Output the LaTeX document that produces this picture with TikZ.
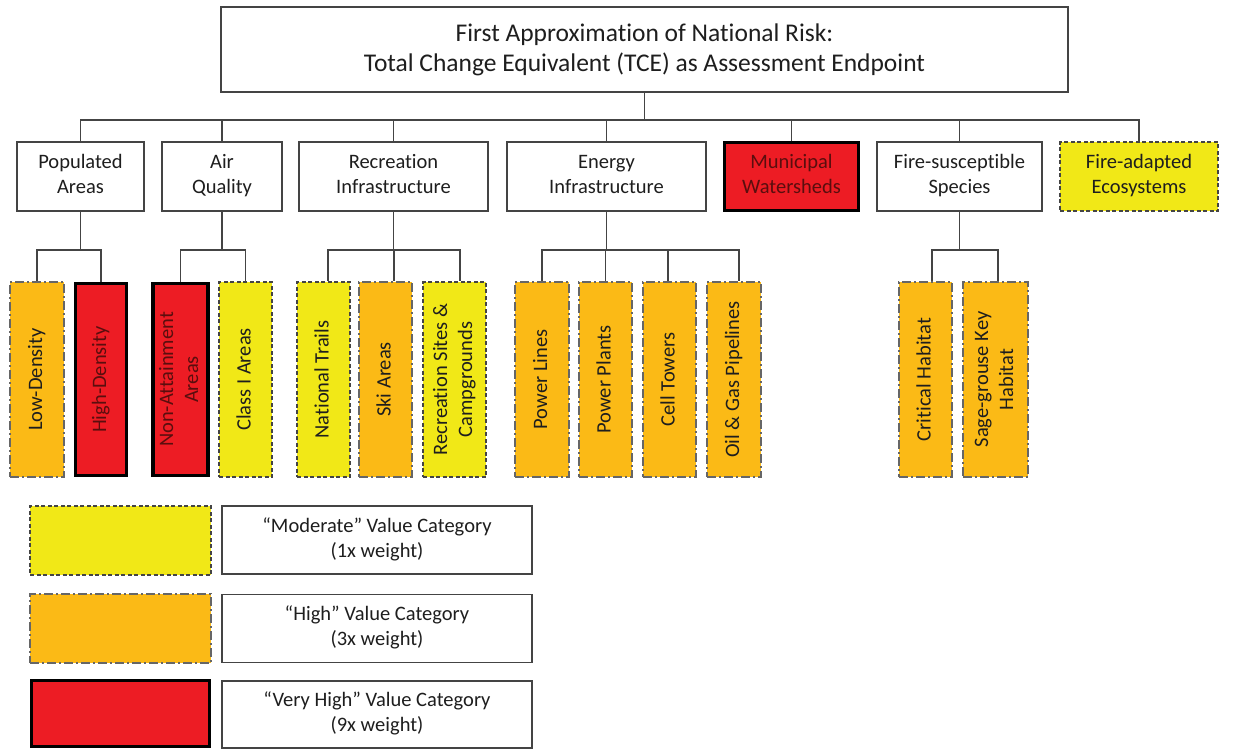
\documentclass[tikz,border=0pt]{standalone}
\usepackage{fontspec}
\usepackage{graphicx}
\setmainfont{Carlito}[Ligatures={NoCommon}]
\definecolor{modfill}{RGB}{241,232,23}
\definecolor{highfill}{RGB}{251,186,22}
\definecolor{vhighfill}{RGB}{237,28,36}
\definecolor{linegray}{RGB}{68,68,68}
\definecolor{txtgray}{RGB}{30,30,30}
\definecolor{txtred}{RGB}{90,14,14}
\newcommand{\vtext}[1]{\rotatebox{90}{\begin{tabular}{@{}c@{}}#1\end{tabular}}}
\tikzset{
  base/.style={inner sep=0pt, align=center, text=txtgray,
    font=\fontsize{20.5}{25}\selectfont},
  plainbox/.style={base, draw=linegray, line width=1.5pt, fill=white},
  moderate/.style={base, draw=linegray, line width=1.5pt, fill=modfill,
    dash pattern=on 4pt off 2.5pt},
  high/.style={base, draw=black!60, line width=2pt, fill=highfill,
    dash pattern=on 9pt off 3pt on 2pt off 3pt},
  veryhigh/.style={base, draw=black, line width=3.5pt, fill=vhighfill, text=txtred},
  toprow/.style={minimum height=69pt, text depth=5pt},
  vbar/.style={minimum height=195pt},
  link/.style={draw=linegray, line width=1.5pt, line join=miter},
}
\begin{document}
\begin{tikzpicture}[x=1pt, y=-1pt]
\useasboundingbox (0,0) rectangle (1235,750);

% root
\node[plainbox, minimum width=847pt, minimum height=85pt,
  font=\fontsize{25.5}{30}\selectfont] (root) at (644.5,49.5)
  {First Approximation of National Risk:\\Total Change Equivalent (TCE) as Assessment Endpoint};

% value groups
\node[plainbox, toprow, minimum width=127pt] (pop)  at (80.5,176.5) {Populated\\Areas};
\node[plainbox, toprow, minimum width=120pt] (air)  at (222,176.5) {Air\\Quality};
\node[plainbox, toprow, minimum width=189pt] (rec)  at (393.5,176.5) {Recreation\\Infrastructure};
\node[plainbox, toprow, minimum width=199pt] (ene)  at (606.5,176.5) {Energy\\Infrastructure};
\node[veryhigh, minimum width=134pt, minimum height=68pt, text depth=5pt] (mun) at (791.5,176.5) {Municipal\\Watersheds};
\node[plainbox, toprow, minimum width=165pt] (fsus) at (959.5,176.5) {Fire-susceptible\\Species};
\node[moderate, toprow, minimum width=158pt] (fad)  at (1139,176.5) {Fire-adapted\\Ecosystems};

% resources
\node[high, vbar, minimum width=54pt] (low)  at (37,379.5) {\vtext{Low-Density}};
\node[veryhigh, minimum width=51pt, minimum height=192pt] (hd) at (101,379.5) {\vtext{High-Density}};
\node[veryhigh, minimum width=55pt, minimum height=192pt] (non) at (180.5,379.5) {\vtext{Non-Attainment\\Areas}};
\node[moderate, vbar, minimum width=53pt] (cls)  at (245.5,379.5) {\vtext{Class I Areas}};
\node[moderate, vbar, minimum width=53pt] (nat)  at (323.5,379.5) {\vtext{National Trails}};
\node[high, vbar, minimum width=53pt] (ski)  at (385.5,379.5) {\vtext{Ski Areas}};
\node[moderate, vbar, minimum width=63pt] (rcs)  at (454.5,379.5) {\vtext{Recreation Sites \&\\Campgrounds}};
\node[high, vbar, minimum width=54pt] (pl)   at (542,379.5) {\vtext{Power Lines}};
\node[high, vbar, minimum width=53pt] (pp)   at (605.5,379.5) {\vtext{Power Plants}};
\node[high, vbar, minimum width=53pt] (ct)   at (669.5,379.5) {\vtext{Cell Towers}};
\node[high, vbar, minimum width=54pt] (og)   at (734,379.5) {\vtext{Oil \& Gas Pipelines}};
\node[high, vbar, minimum width=53pt] (crit) at (925.5,379.5) {\vtext{Critical Habitat}};
\node[high, vbar, minimum width=65pt] (sage) at (995.5,379.5) {\vtext{Sage-grouse Key\\Habitat}};

% bus levels
\coordinate (b1) at (0,120);
\coordinate (b2) at (0,250);

% root to groups
\draw[link] (root.south) -- (root.south |- b1);
\draw[link] (pop.north) |- (fad.north |- b1) -- (fad.north);
\foreach \n in {air,rec,ene,mun,fsus}
  \draw[link] (\n.north) -- (\n.north |- b1);

% stems into the resource bars
\coordinate (lowT)  at (low.north);
\coordinate (hdT)   at (hd.north);
\coordinate (nonT)  at (non.north);
\coordinate (clsT)  at (cls.north);
\coordinate (natT)  at ([xshift=4.5pt]nat.north);
\coordinate (skiT)  at ([xshift=8.5pt]ski.north);
\coordinate (rcsT)  at ([xshift=5.5pt]rcs.north);
\coordinate (plT)   at (pl.north);
\coordinate (ppT)   at (pp.north);
\coordinate (ctT)   at ([xshift=-1.5pt]ct.north);
\coordinate (ogT)   at ([xshift=5pt]og.north);
\coordinate (critT) at ([xshift=6.5pt]crit.north);
\coordinate (sageT) at ([xshift=2.5pt]sage.north);

\foreach \p in {pop,air,rec,ene,fsus}
  \draw[link] (\p.south) -- (\p.south |- b2);
\draw[link] (lowT) |- (hdT |- b2) -- (hdT);
\draw[link] (nonT) |- (clsT |- b2) -- (clsT);
\draw[link] (natT) |- (rcsT |- b2) -- (rcsT);
\draw[link] (skiT) -- (skiT |- b2);
\draw[link] (plT) |- (ogT |- b2) -- (ogT);
\draw[link] (ppT) -- (ppT |- b2);
\draw[link] (ctT) -- (ctT |- b2);
\draw[link] (critT) |- (sageT |- b2) -- (sageT);

% legend
\node[moderate, minimum width=181pt, minimum height=69pt] (kmod) at (120.5,540.5) {};
\node[plainbox, minimum width=310pt, minimum height=68pt, text depth=5pt] (lmod) at (377,540) {\textquotedblleft Moderate\textquotedblright{} Value Category\\(1x weight)};
\node[high, minimum width=181pt, minimum height=69pt] (khigh) at (120.5,628.5) {};
\node[plainbox, minimum width=310pt, minimum height=68pt, text depth=5pt] (lhigh) at (377,628.5) {\textquotedblleft High\textquotedblright{} Value Category\\(3x weight)};
\node[veryhigh, minimum width=178pt, minimum height=66pt] (kvh) at (120.5,713.5) {};
\node[plainbox, minimum width=310pt, minimum height=67pt, text depth=5pt] (lvh) at (377,714.5) {\textquotedblleft Very High\textquotedblright{} Value Category\\(9x weight)};
\end{tikzpicture}
\end{document}
